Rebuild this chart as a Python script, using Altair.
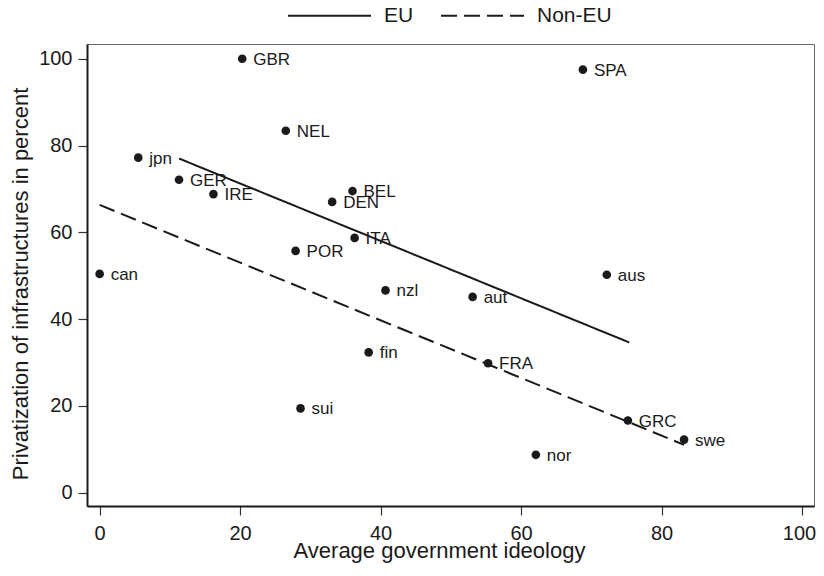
import altair as alt
import pandas as pd

countries = ["GBR", "SPA", "NEL", "jpn", "GER", "IRE", "BEL", "DEN", "ITA", "POR",
             "can", "aus", "nzl", "aut", "fin", "FRA", "sui", "GRC", "swe", "nor"]
ideology = [20.3, 68.8, 26.5, 5.5, 11.3, 16.2, 36.0, 33.1, 36.3, 27.9,
            0.0, 72.2, 40.7, 53.1, 38.3, 55.3, 28.6, 75.2, 83.2, 62.1]
privatization = [100.0, 97.5, 83.4, 77.2, 72.1, 68.8, 69.5, 67.0, 58.7, 55.7,
                 50.4, 50.2, 46.6, 45.1, 32.3, 29.8, 19.4, 16.6, 12.2, 8.7]

# Fitted lines (end points)
fit_group = ["EU", "EU", "Non-EU", "Non-EU"]
fit_x = [11.3, 75.4, 0.0, 83.2]
fit_y = [77.0, 34.6, 66.3, 11.0]

x_ticks = [0, 20, 40, 60, 80, 100]
y_ticks = [0, 20, 40, 60, 80, 100]

pts = pd.DataFrame({"country": countries, "x": ideology, "y": privatization})
fits = pd.DataFrame({"group": fit_group, "x": fit_x, "y": fit_y})

FONT = "Liberation Sans"
INK = "#1a1a1a"

xscale = alt.Scale(domain=[-1.8, 101.7], nice=False, zero=False)
yscale = alt.Scale(domain=[-3.1, 103.4], nice=False, zero=False)

xaxis = alt.Axis(values=x_ticks, title="Average government ideology", grid=False,
                 tickSize=9, labelPadding=8, titleX=352, titleY=51,
                 titleBaseline="alphabetic",
                 labelOffset={"expr": "datum.value == 100 ? -3 : 0"})
yaxis = alt.Axis(values=y_ticks, title="Privatization of infrastructures in percent",
                 grid=False, tickSize=9, labelPadding=6, titleX=-60, titleY=239.5,
                 titleAlign="center", titleBaseline="alphabetic")

lines = alt.Chart(fits).mark_line(color=INK, strokeWidth=2).encode(
    x=alt.X("x:Q", scale=xscale, axis=xaxis),
    y=alt.Y("y:Q", scale=yscale, axis=yaxis),
    strokeDash=alt.StrokeDash(
        "group:N",
        scale=alt.Scale(domain=["EU", "Non-EU"], range=[[1, 0], [16, 7]]),
        legend=alt.Legend(title=None, orient="none", legendX=200, legendY=-71,
                          direction="horizontal", symbolType="stroke",
                          symbolSize=6889, symbolStrokeWidth=2,
                          symbolStrokeColor=INK, labelFontSize=21,
                          labelFont=FONT, labelColor=INK, labelOffset=12,
                          columnPadding=23),
    ),
)

points = alt.Chart(pts).mark_circle(size=75, color=INK, opacity=1).encode(
    x=alt.X("x:Q", scale=xscale),
    y=alt.Y("y:Q", scale=yscale),
)

labels = alt.Chart(pts).mark_text(align="left", baseline="middle", dx=11, dy=1,
                                  fontSize=17, font=FONT, color=INK).encode(
    x=alt.X("x:Q", scale=xscale),
    y=alt.Y("y:Q", scale=yscale),
    text="country:N",
)

chart = alt.layer(labels, lines, points).properties(
    width=727, height=462,
    autosize=alt.AutoSizeParams(type="none"),
    padding={"left": 79, "top": 36, "right": 2, "bottom": 62},
).configure_view(
    stroke="#666", strokeWidth=1
).configure_axis(
    labelFont=FONT, titleFont=FONT, labelFontSize=20, titleFontSize=22,
    titleFontWeight="normal", labelColor=INK, titleColor=INK,
    domainColor=INK, domainWidth=2, tickColor="#333", tickWidth=1.2,
)

chart.save("out.html", embed_options={"renderer": "svg", "actions": False})
